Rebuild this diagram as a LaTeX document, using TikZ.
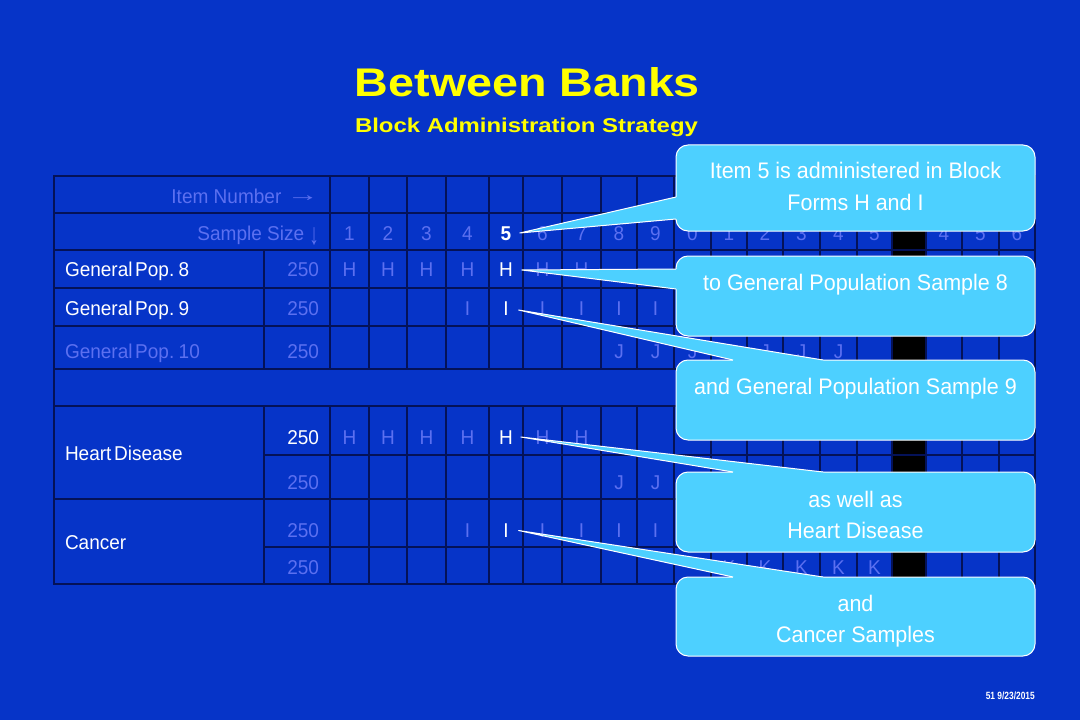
\documentclass[tikz,border=0pt]{standalone}
\usepackage{fontspec}
\setmainfont{Liberation Sans}
\newfontfamily\tabfont{Liberation Sans}[WordSpace=0.5, FakeStretch=0.95]
\newfontfamily\headfont{Liberation Sans}[FakeStretch=0.951]
\newfontfamily\calfont{Liberation Sans}[FakeStretch=0.955]
\usepackage{graphicx}
\usetikzlibrary{calc}
\definecolor{bgblue}{RGB}{6,52,200}
\definecolor{faint}{RGB}{92,112,240}
\definecolor{gridc}{RGB}{4,18,88}
\definecolor{calloutc}{RGB}{77,208,255}
\definecolor{titley}{RGB}{255,255,0}
\newcommand{\rarr}{\raisebox{2bp}{\scalebox{1.7}[1]{→}}}
\newcommand{\darr}{\raisebox{-4bp}{\scalebox{1}[1.5]{↓}}}
\begin{document}
\begin{tikzpicture}[x=1bp,y=-1bp,
  cell/.style={inner sep=0pt, outer sep=0pt, text height=14.3bp, text depth=0bp, font={\tabfont\fontsize{20bp}{24bp}\selectfont}},
  dim/.style={cell, text=faint},
  hi/.style={cell, text=white},
  head/.style={dim, font={\headfont\fontsize{20bp}{24bp}\selectfont}},
  gridline/.style={draw=gridc, line width=1.5bp},
  callout/.style={draw=white, line width=1bp, fill=calloutc, rounded corners=12bp, minimum width=359bp, minimum height=#1, inner sep=0pt, outer sep=0pt},
  ctext/.style={anchor=base, text=white, inner sep=0pt, font={\calfont\fontsize{22.5bp}{26bp}\selectfont}},
  wedgeedge/.style={draw=white, line width=1bp, line join=round},
]
% background
\fill[bgblue] (0,0) rectangle (1080,720);

% titles
\node[anchor=base, text=titley, inner sep=0pt, font=\fontsize{40bp}{44bp}\selectfont\bfseries] (title) at (527.5,97) {\scalebox{1.167}[1]{Between Banks}};
\node[anchor=base, text=titley, inner sep=0pt, font=\fontsize{20bp}{24bp}\selectfont\bfseries] (subtitle) at (526.5,133) {\scalebox{1.196}[1]{Block Administration Strategy}};

% black column
\fill[black] (892,176) rectangle (926,369);
\fill[black] (892,406) rectangle (926,584);

% grid
\draw[gridline] (54,176) rectangle (1035,584);
\foreach \y in {213,250,288,326,369,406,499} \draw[gridline] (54,\y) -- (1035,\y);
\foreach \y in {455,547} \draw[gridline] (264,\y) -- (1035,\y);
\draw[gridline] (264,250) -- (264,369);
\draw[gridline] (264,406) -- (264,584);
\foreach \x in {330,369,407,446,489,523,562,601,637,674,711,747,783,820,857,892,926,962,999} {
  \draw[gridline] (\x,176) -- (\x,369);
  \draw[gridline] (\x,406) -- (\x,584);
}

% header texts
\node[head, anchor=east] (itemnum) at (319,196.5) {Item Number \rarr};
\node[head, anchor=east] (samplesize) at (319,233) {Sample Size \darr};
\foreach \x/\d [count=\i] in {349.5/1,388/2,426.5/3,467.5/4,542.5/6,581.5/7,619/8,655.5/9,692.5/0,729/1,765/2,801.5/3,838.5/4,874.5/5,944/4,980.5/5,1017/6}
  \node[dim] (ss\i) at (\x,233) {\d};
\node[hi, font={\tabfont\fontsize{20bp}{24bp}\selectfont\bfseries}] (c5) at (506,233) {5};

% row labels
\node[hi, anchor=west] (gp8) at (65,269.5) {General Pop. 8};
\node[hi, anchor=west] (gp9) at (65,308) {General Pop. 9};
\node[dim, anchor=west] (gp10) at (65,351) {General Pop. 10};
\node[hi, anchor=west] (hd) at (65,453) {Heart Disease};
\node[hi, anchor=west] (ca) at (65,542.5) {Cancer};

% sample sizes
\node[dim, anchor=east] (n8) at (319,269.5) {250};
\node[dim, anchor=east] (n9) at (319,308) {250};
\node[dim, anchor=east] (n10) at (319,351) {250};
\node[hi, anchor=east] (nh1) at (319,437.5) {250};
\node[dim, anchor=east] (nh2) at (319,482) {250};
\node[dim, anchor=east] (nc1) at (319,530.5) {250};
\node[dim, anchor=east] (nc2) at (319,567) {250};

% block letters
\foreach \x [count=\i] in {349.5,388,426.5,467.5,542.5,581.5} \node[dim] (h8-\i) at (\x,269.5) {H};
\node[hi] (h85) at (506,269.5) {H};
\foreach \x [count=\i] in {467.5,542.5,581.5,619,655.5} \node[dim] (i9-\i) at (\x,308) {I};
\node[hi] (i95) at (506,308) {I};
\foreach \x [count=\i] in {619,655.5,692.5,729,765,801.5,838.5} \node[dim] (j10-\i) at (\x,351) {J};
\foreach \x [count=\i] in {349.5,388,426.5,467.5,542.5,581.5} \node[dim] (hh-\i) at (\x,437.5) {H};
\node[hi] (hh5) at (506,437.5) {H};
\foreach \x [count=\i] in {619,655.5} \node[dim] (hj-\i) at (\x,482) {J};
\foreach \x [count=\i] in {467.5,542.5,581.5,619,655.5} \node[dim] (ci-\i) at (\x,530.5) {I};
\node[hi] (ic5) at (506,530.5) {I};
\foreach \x [count=\i] in {729,765,801.5,838.5,874.5} \node[dim] (ck-\i) at (\x,567) {K};

% callout 1
\node[callout=86bp] (k1) at (855.5,188) {};
\coordinate (t1) at ($(c5.east)+(8.5,0)$);
\coordinate (b1a) at ($(k1.west)+(0,9)$);
\coordinate (b1b) at ($(k1.west)+(0,31)$);
\fill[calloutc] (t1) -- (b1a) -- ($(b1a)+(4,0)$) -- ($(b1b)+(4,0)$) -- (b1b) -- cycle;
\draw[wedgeedge] (b1a) -- (t1) -- (b1b);
\node[ctext] (k1a) at (855.5,179) {Item 5 is administered in Block};
\node[ctext] (k1b) at (855.5,210.5) {Forms H and I};

% callout 2
\node[callout=80bp] (k2) at (855.5,296) {};
\coordinate (t2) at ($(h85.east)+(9,0.5)$);
\coordinate (b2a) at ($(k2.west)+(0,-27)$);
\coordinate (b2b) at ($(k2.west)+(0,-7)$);
\fill[calloutc] (t2) -- (b2a) -- ($(b2a)+(4,0)$) -- ($(b2b)+(4,0)$) -- (b2b) -- cycle;
\draw[wedgeedge] (b2a) -- (t2) -- (b2b);
\node[ctext] (k2a) at (855.5,290) {to General Population Sample 8};

% callout 3
\node[callout=80bp] (k3) at (855.5,400) {};
\coordinate (t3) at ($(i95.east)+(10,2)$);
\coordinate (b3a) at ($(k3.north west)+(57,0)$);
\coordinate (b3b) at ($(k3.north west)+(147,0)$);
\fill[calloutc] (t3) -- (b3a) -- ($(b3a)+(0,4)$) -- ($(b3b)+(0,4)$) -- (b3b) -- cycle;
\draw[wedgeedge] (b3a) -- (t3) -- (b3b);
\node[ctext] (k3a) at (855.5,394) {and General Population Sample 9};

% callout 4
\node[callout=80bp] (k4) at (855.5,512) {};
\coordinate (t4) at ($(hh5.east)+(8,-0.5)$);
\coordinate (b4a) at ($(k4.north west)+(57,0)$);
\coordinate (b4b) at ($(k4.north west)+(147,0)$);
\fill[calloutc] (t4) -- (b4a) -- ($(b4a)+(0,4)$) -- ($(b4b)+(0,4)$) -- (b4b) -- cycle;
\draw[wedgeedge] (b4a) -- (t4) -- (b4b);
\node[ctext] (k4a) at (855.5,507) {as well as};
\node[ctext] (k4b) at (855.5,538.5) {Heart Disease};

% callout 5
\node[callout=79bp] (k5) at (855.5,616.5) {};
\coordinate (t5) at ($(ic5.east)+(10,0)$);
\coordinate (b5a) at ($(k5.north west)+(57,0)$);
\coordinate (b5b) at ($(k5.north west)+(147,0)$);
\fill[calloutc] (t5) -- (b5a) -- ($(b5a)+(0,4)$) -- ($(b5b)+(0,4)$) -- (b5b) -- cycle;
\draw[wedgeedge] (b5a) -- (t5) -- (b5b);
\node[ctext] (k5a) at (855.5,611) {and};
\node[ctext] (k5b) at (855.5,642) {Cancer Samples};

% footer
\node[anchor=base east, text=white, inner sep=0pt, font=\fontsize{10.5bp}{12bp}\selectfont\bfseries] (footer) at (1035,699.5) {\scalebox{0.8}[1]{51 9/23/2015}};
\end{tikzpicture}
\end{document}
